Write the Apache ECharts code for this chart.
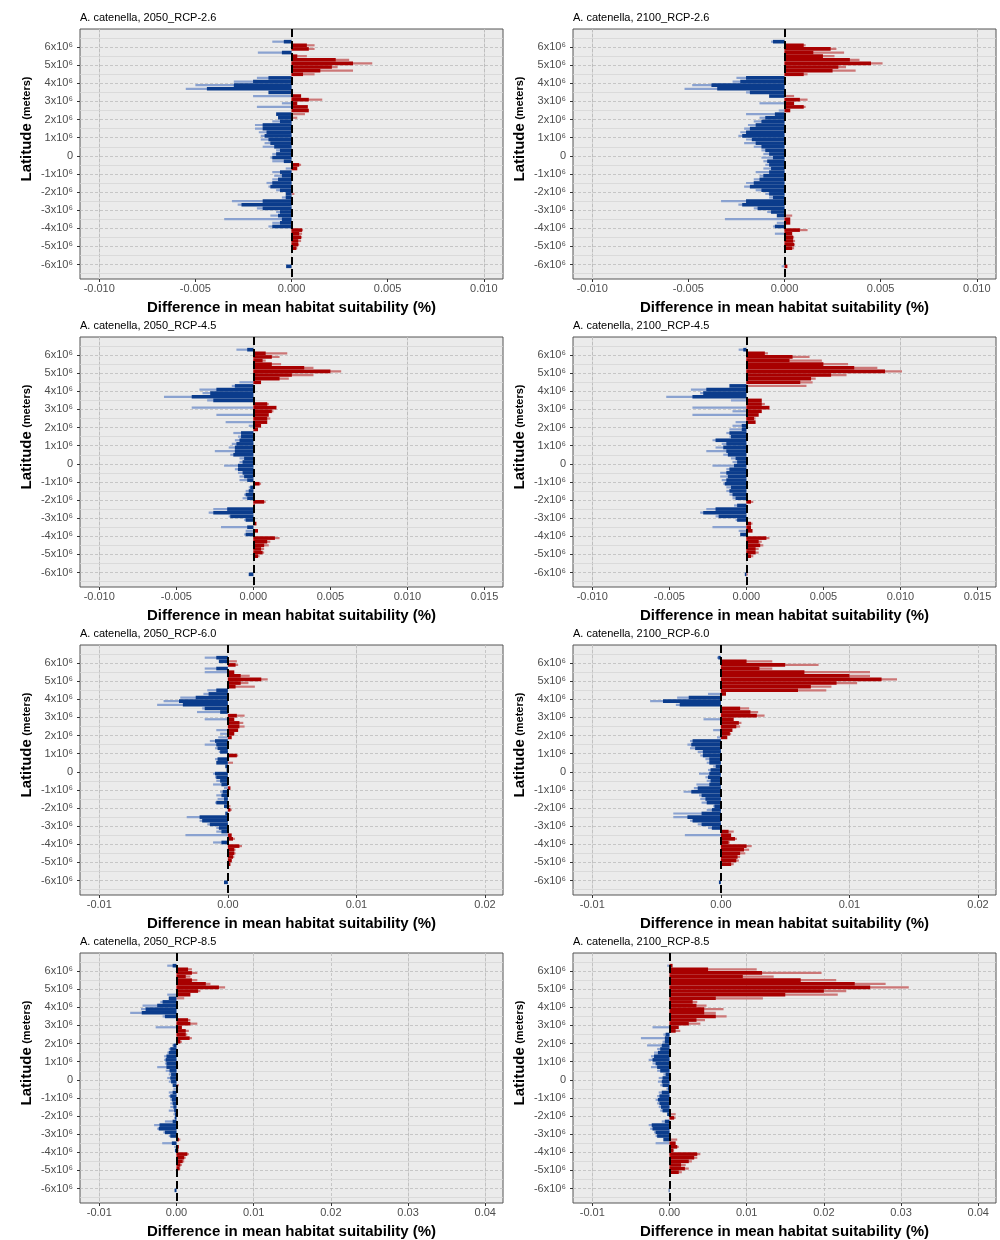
<!DOCTYPE html>
<html>
<head>
<meta charset="utf-8">
<title>A. catenella – difference in mean habitat suitability by latitude</title>
<script src="https://cdn.jsdelivr.net/npm/echarts@6/dist/echarts.min.js"></script>
<style>
  html, body { margin: 0; padding: 0; background: #fff; }
  #chart { width: 1000px; height: 1240px; }
</style>
</head>
<body>
<div id="chart"></div>
<script>
// latitude bins (x10^6 m, 0.2 wide), top to bottom; the data arrays start at 6.3 (index 3) and end at -6.1
var latBins = [6.9, 6.7, 6.5, 6.3, 6.1, 5.9, 5.7, 5.5, 5.3, 5.1, 4.9, 4.7, 4.5, 4.3, 4.1, 3.9, 3.7, 3.5,
  3.3, 3.1, 2.9, 2.7, 2.5, 2.3, 2.1, 1.9, 1.7, 1.5, 1.3, 1.1, 0.9, 0.7, 0.5, 0.3, 0.1, -0.1, -0.3, -0.5,
  -0.7, -0.9, -1.1, -1.3, -1.5, -1.7, -1.9, -2.1, -2.3, -2.5, -2.7, -2.9, -3.1, -3.3, -3.5, -3.7, -3.9,
  -4.1, -4.3, -4.5, -4.7, -4.9, -5.1, -5.3, -5.5, -5.7, -5.9, -6.1, -6.3, -6.5, -6.7];

var latTicks = [6e6, 5e6, 4e6, 3e6, 2e6, 1e6, 0, -1e6, -2e6, -3e6, -4e6, -5e6, -6e6];
var xTicksA = [-0.01, -0.005, 0, 0.005, 0.01];
var xTicksB = [-0.01, -0.005, 0, 0.005, 0.01, 0.015];
var xTicksC = [-0.01, 0, 0.01, 0.02];
var xTicksD = [-0.01, 0, 0.01, 0.02, 0.03, 0.04];
var xMinorA = [-0.0075, -0.0025, 0.0025, 0.0075];
var xMinorB = [-0.0075, -0.0025, 0.0025, 0.0075, 0.0125];
var xMinorC = [-0.005, 0.005, 0.015];
var xMinorD = [-0.005, 0.005, 0.015, 0.025, 0.035];

// values in units of 0.001; core = bulk of the bin, spike = longest thin bar in the bin
var core2050_26 = [-0.4, 0.8, 0.9, -0.5, 0.3, 2.3, 3.2, 2.1, 1.5, 0.6,
  -1.2, -2.0, -3.0, -4.4, -1.2, 0.5, 0.9, 0.3, 0.85, 0.9,
  -0.8, -0.7, -0.6, -1.5, -1.5, -1.3, -1.4, -1.2, -1.1, -0.9,
  -0.6, -0.8, -1.0, -0.4, 0.4, 0.3, -0.6, -0.5, -0.7, -1.0,
  -1.1, -0.6, -0.3, -0.3, -1.5, -2.6, -1.5, -0.6, -0.7, -0.5,
  -0.6, -1.0, 0.55, 0.4, 0.5, 0.35, 0.35, 0.25, 0, 0,
  0, 0, -0.28];
var spike2050_26 = [-1.0, 1.2, 1.2, -1.75, 0.8, 3.0, 4.2, 2.4, 3.2, 1.2,
  -1.8, -3.0, -5.0, -5.5, 0, -2.0, 1.6, -0.5, -1.8, 0,
  0.7, 0.3, -1.0, -1.9, -1.9, -1.7, -1.6, -1.6, -1.4, -1.5,
  -0.8, -1.0, -1.1, -1.0, 0.5, -0.3, -1.0, -0.9, -1.0, -1.3,
  -1.2, -0.8, 0.15, -0.5, -3.1, -2.8, -1.8, -0.8, -1.1, -3.5,
  -1.0, -1.2, 0.6, 0.55, 0.55, 0.5, 0.4, 0.3, 0, 0,
  0, 0, 0];

var core2100_26 = [-0.6, 1.0, 2.4, 1.5, 2.0, 3.4, 4.5, 2.8, 2.5, 1.0,
  -2.0, -2.3, -3.8, -3.5, -1.8, -0.8, 0.8, 0.5, 1.0, 0.3,
  -0.5, -1.0, -1.2, -1.5, -1.8, -2.0, -2.2, -1.7, -1.5, -1.2,
  -1.0, -0.8, -0.6, -0.9, -0.8, -0.7, -0.8, -1.1, -1.3, -1.6,
  -1.8, -1.2, -0.8, -0.6, -2.0, -2.2, -1.4, -0.7, -0.4, 0.3,
  0.3, -0.5, 0.8, 0.4, 0.45, 0.45, 0.5, 0.4, 0, 0,
  0, 0, 0.15];
var spike2100_26 = [-0.7, 1.1, 2.7, 3.1, 2.6, 3.9, 5.1, 3.2, 3.7, 1.2,
  -2.5, -2.7, -4.8, -5.2, -2.0, 0.5, 1.2, -1.3, 1.1, -0.3,
  -2.0, -1.3, -1.6, -1.9, -2.1, -2.3, -2.4, -2.0, -2.1, -1.6,
  -1.2, -1.1, -1.2, -1.1, -1.0, -1.1, -1.5, -1.3, -1.6, -2.0,
  -2.1, -1.5, -1.0, -0.8, -3.3, -2.4, -1.6, -0.9, 0.4, -3.1,
  -0.4, -0.6, 1.2, -0.5, 0.5, 0.55, 0.55, 0.5, 0, 0,
  0, 0, -0.15];

var core2050_45 = [-0.4, 0.8, 1.2, 0.6, 1.2, 3.3, 5.0, 2.5, 1.7, 0.5,
  -1.2, -2.4, -2.8, -4.0, -2.6, 0.9, 1.5, 1.2, 1.0, 0.9,
  0.9, 0.5, 0.3, -0.8, -0.8, -0.9, -1.1, -1.2, -1.2, -1.3,
  -0.6, -0.7, -1.0, -1.0, -0.7, -0.6, -0.4, 0.4, -0.2, -0.3,
  -0.5, -0.4, 0.7, 0.1, -1.7, -2.6, -1.5, -0.5, 0.2, -0.4,
  0.3, -0.5, 1.4, 0.9, 0.7, 0.5, 0.6, 0.3, 0, 0,
  0, 0, -0.3];
var spike2050_45 = [-1.1, 2.2, 1.7, 0.8, 1.8, 3.9, 5.7, 3.9, 2.3, -0.9,
  -1.4, -3.5, -3.3, -5.8, -3.0, 1.0, -4.0, 1.3, -2.4, 1.1,
  -1.8, -0.3, 0, -1.3, -1.0, -1.2, -1.4, -1.6, -2.5, -1.5,
  -0.9, -0.9, -1.9, -1.2, -1.0, -0.9, -0.9, 0.5, -0.3, -0.5,
  -0.6, -0.7, 0.8, 0, -2.6, -2.9, -1.6, -0.6, 0, -2.1,
  -0.5, -0.6, 1.7, 1.1, 1.0, 0.7, 0.7, 0.4, 0, 0,
  0, 0, 0];

var core2100_45 = [-0.2, 1.2, 3.0, 2.8, 5.0, 7.0, 9.0, 5.5, 4.2, 3.5,
  -1.1, -2.6, -2.8, -3.5, 1.0, 1.0, 1.5, 1.0, 0.8, 0.5,
  0.6, -0.3, -0.3, -1.1, -1.0, -2.0, -1.3, -1.5, -1.3, -1.2,
  -0.7, -0.6, -0.8, -1.1, -1.3, -1.2, -1.3, -1.4, -1.0, -1.1,
  -0.9, -0.7, 0.3, -0.6, -2.0, -2.8, -1.8, -0.6, 0.3, 0.3,
  0.4, -0.4, 1.3, 0.8, 0.9, 0.6, 0.6, 0.3, 0, 0,
  0, 0, -0.1];
var spike2100_45 = [-0.5, 1.4, 4.1, 4.9, 6.6, 8.5, 10.1, 6.5, 4.5, 4.3,
  3.9, -3.6, -3.0, -5.2, -1.0, 1.2, -3.5, -0.9, -3.5, 0.6,
  -0.7, -0.9, -1.1, -1.3, -1.1, -2.2, -1.6, -2.0, -2.6, -1.5,
  -1.0, -0.9, -2.2, -1.3, -1.7, -1.7, -1.6, -1.5, -1.3, -1.3,
  -1.1, -0.9, 0.45, -0.8, -2.6, -3.0, -2.0, -0.7, 0.4, -2.2,
  -0.5, 0, 1.5, 1.0, 1.1, 0.8, 0.8, 0.45, 0, 0,
  0, 0, 0.1];

var core2050_60 = [-0.9, -0.7, 0.6, -0.9, 0.5, 1.0, 2.6, 1.0, 0.6, -0.9,
  -1.5, -2.5, -3.8, -3.5, -1.8, -0.6, 0.7, 0.5, 0.9, 0.9,
  0.8, 0.5, 0.3, -1.0, -0.9, -0.8, -0.6, 0.7, -0.8, -0.9,
  -0.2, -0.1, -1.0, -0.9, -0.6, -0.5, 0.2, -0.4, -0.5, -0.3,
  -0.9, -0.3, 0.2, -0.2, -2.2, -2.0, -1.4, -0.7, -0.5, 0.3,
  0.4, -0.5, 0.9, 0.5, 0.5, 0.4, 0.3, 0.2, 0, 0,
  0, 0, -0.3];
var spike2050_60 = [-1.8, 0.7, 0.8, -1.8, -1.8, 1.7, 3.1, 1.6, 2.1, -1.6,
  -1.9, -3.7, -5.0, -5.5, -2.0, -2.4, 1.3, -1.8, 1.2, 1.3,
  -0.9, -0.6, -0.75, -1.4, -1.8, -1.0, -0.7, 0.8, -1.0, 0.4,
  0, 0, -1.15, -1.0, -0.9, -1.15, -0.3, -0.6, -0.9, -0.8,
  -1.0, 0.2, 0.3, 0, -3.2, -2.2, -1.6, -0.9, -0.9, -3.3,
  0.55, -1.15, 1.1, 0.6, 0.6, 0.5, 0.3, 0, 0, 0,
  0, 0, 0];

var core2100_60 = [-0.2, 2.0, 5.0, 3.0, 6.5, 10.0, 12.5, 9.0, 7.0, 6.0,
  0.4, -2.5, -4.5, -3.2, 1.5, 2.3, 2.8, 1.0, 1.4, 1.2,
  0.9, 0.7, 0.5, -2.2, -2.3, -2.0, -1.4, -1.4, -0.9, -0.9,
  -0.4, -0.8, -0.9, -1.0, -0.8, -0.9, -1.8, -2.3, -1.5, -1.2,
  -1.1, -0.5, -0.7, -1.5, -2.6, -2.2, -1.5, -0.7, 0.6, 0.8,
  1.1, 0.6, 2.0, 1.8, 1.5, 1.3, 1.2, 0.8, 0, 0,
  0, 0, -0.15];
var spike2100_60 = [-0.3, 4.0, 7.6, 4.0, 11.6, 11.6, 13.7, 10.6, 8.6, 8.2,
  -1.0, -3.4, -5.5, -3.5, 2.2, 2.9, 3.4, -1.35, 1.6, 1.5,
  -0.6, 0.8, -0.3, -2.4, -2.6, -2.4, -1.8, -1.6, -1.2, -1.1,
  -0.6, -1.0, -1.7, -1.2, -1.1, -1.9, -2.1, -2.9, -1.7, -1.6,
  -1.5, -0.6, -1.1, -3.7, -3.7, -2.4, -1.8, -1.0, 1.0, -2.8,
  1.25, 0.7, 2.4, 2.2, 1.9, 1.5, 1.4, 1.0, 0, 0,
  0, 0, 0];

var core2050_85 = [-0.5, 1.5, 2.0, 1.2, 2.0, 3.8, 5.5, 2.8, 1.8, -1.0,
  -1.8, -2.5, -4.0, -4.5, -1.5, 1.5, 1.8, 0.7, 1.2, 1.2,
  1.7, 0.5, -0.4, -0.8, -1.0, -1.3, -1.4, -1.3, -1.3, -0.9,
  -0.7, -0.8, -0.7, -0.5, 0.2, -0.5, -0.8, -0.6, -0.5, -0.4,
  -0.3, -0.2, -0.2, -0.5, -2.2, -2.3, -1.5, -0.8, 0.3, -0.6,
  0.3, -0.2, 1.4, 1.0, 0.8, 0.5, 0.4, 0.15, 0, 0,
  0, 0, -0.25];
var spike2050_85 = [-1.2, 2.0, 2.7, 1.8, 2.7, 4.4, 6.3, 3.1, -1.2, 1.0,
  -2.1, -4.4, -4.6, -6.0, -1.8, 1.8, 2.7, -2.7, 1.6, 1.4,
  2.0, 0.7, -0.55, -1.0, -1.2, -1.6, -1.6, -1.5, -2.5, -1.4,
  -1.0, -1.2, -1.0, 0.3, -0.4, -1.0, -1.0, -0.8, -0.8, -0.8,
  -1.0, -0.4, -0.3, -1.5, -2.9, -2.5, -1.7, -1.0, 0.5, -1.85,
  -0.3, 0.3, 1.6, 1.2, 1.0, 0.7, 0.5, 0.2, 0, 0,
  0, 0, 0];

var core2100_85 = [0.4, 5.0, 12.0, 9.5, 17.0, 24.0, 26.0, 20.0, 15.0, 6.0,
  3.0, 3.5, 4.5, 4.5, 6.0, 3.5, 2.5, 1.2, 0.8, -0.5,
  -0.6, -0.6, -1.0, -1.2, -1.5, -2.0, -2.2, -1.8, -1.6, -1.2,
  -0.5, -0.9, -1.0, -0.9, -0.2, -1.0, -1.3, -1.5, -1.3, -1.1,
  -0.9, -0.3, 0.6, -0.6, -2.3, -2.2, -1.8, -1.6, -0.8, 0.8,
  1.0, 0.5, 3.6, 3.2, 2.5, 1.5, 2.0, 1.2, 0, 0,
  0, 0, -0.1];
var spike2100_85 = [-0.3, 11.3, 19.7, 13.5, 21.6, 28.0, 31.0, 22.9, 21.8, 12.1,
  3.6, 4.8, 7.0, 6.0, 7.4, 4.6, 4.0, -2.2, 1.4, -0.8,
  -3.7, -0.9, -2.9, -1.6, -2.0, -2.4, -2.7, -2.2, -2.4, -1.6,
  -0.8, -1.4, -1.5, -1.2, -0.4, -1.4, -1.6, -1.8, -1.6, -1.4,
  -1.2, 0.8, 0.8, -1.0, -2.7, -2.5, -2.0, -1.8, 1.0, -1.8,
  1.2, 0.6, 4.0, 3.6, 2.9, 2.1, 2.5, 1.6, 0, 0,
  0, 0, 0];

var panels = [
  { name: 'A. catenella, 2050_RCP-2.6', core: core2050_26, spike: spike2050_26, row: 0, col: 0 },
  { name: 'A. catenella, 2100_RCP-2.6', core: core2100_26, spike: spike2100_26, row: 0, col: 1 },
  { name: 'A. catenella, 2050_RCP-4.5', core: core2050_45, spike: spike2050_45, row: 1, col: 0 },
  { name: 'A. catenella, 2100_RCP-4.5', core: core2100_45, spike: spike2100_45, row: 1, col: 1 },
  { name: 'A. catenella, 2050_RCP-6.0', core: core2050_60, spike: spike2050_60, row: 2, col: 0 },
  { name: 'A. catenella, 2100_RCP-6.0', core: core2100_60, spike: spike2100_60, row: 2, col: 1 },
  { name: 'A. catenella, 2050_RCP-8.5', core: core2050_85, spike: spike2050_85, row: 3, col: 0 },
  { name: 'A. catenella, 2100_RCP-8.5', core: core2100_85, spike: spike2100_85, row: 3, col: 1 }
];

var rowAxes = [
  { min: -0.011, max: 0.011, step: 0.005, split: 5, ticks: xTicksA, minor: xMinorA, digits: 3 },
  { min: -0.01125, max: 0.0162, step: 0.005, split: 5, ticks: xTicksB, minor: xMinorB, digits: 3 },
  { min: -0.0115, max: 0.0214, step: 0.01, split: 3, ticks: xTicksC, minor: xMinorC, digits: 2 },
  { min: -0.0125, max: 0.0423, step: 0.01, split: 5, ticks: xTicksD, minor: xMinorD, digits: 2 }
];

var colLeft = [80, 573];
var rowTop = [29, 337, 645, 953];
var FONT = '"Liberation Sans", Arial, sans-serif';
var RED = '#A80000', BLUE = '#0B3C8C', RED_LIGHT = '#CC7777', BLUE_LIGHT = '#8AA2D0';

function padBins (vals) {
  return [null, null, null].concat(vals.map(function (v) { return v / 1000; }), [null, null, null]);
}

function signColor (neg, pos) {
  return function (d) { return d.value < 0 ? neg : pos; };
}

var grids = [], titles = [], xAxes = [], yAxes = [], series = [];

panels.forEach(function (p, i) {
  var left = colLeft[p.col];
  var top = rowTop[p.row];
  var ax = rowAxes[p.row];

  grids.push({
    left: left, top: top, width: 423, height: 250, z: 0,
    show: true, backgroundColor: '#EBEBEB', borderColor: '#555', borderWidth: 1
  });

  titles.push({
    text: p.name, left: left, top: top - 17, padding: 0,
    textStyle: { fontFamily: FONT, fontSize: 11, fontWeight: 'normal', color: '#000' }
  });

  xAxes.push({
    type: 'value', gridIndex: i, min: ax.min, max: ax.max, z: 3,
    splitNumber: ax.split, minInterval: ax.step, maxInterval: ax.step,
    axisLine: { show: false, onZero: false },
    axisTick: { show: true, length: 3, customValues: ax.ticks, lineStyle: { color: '#333' } },
    axisLabel: {
      customValues: ax.ticks, margin: 4, color: '#4D4D4D', fontSize: 11, fontFamily: FONT,
      formatter: function (v) { return v.toFixed(ax.digits); }
    },
    splitLine: { show: false },
    name: 'Difference in mean habitat suitability (%)',
    nameLocation: 'middle', nameGap: 21,
    nameTextStyle: { fontFamily: FONT, fontSize: 15, fontWeight: 'bold', color: '#000' }
  });

  // value axis for ticks, labels and horizontal grid lines
  yAxes.push({
    type: 'value', gridIndex: i, min: -6.8e6, max: 7.0e6, z: 3,
    splitNumber: 14, minInterval: 1e6, maxInterval: 1e6,
    axisLine: { show: false, onZero: false },
    axisTick: { show: true, length: 3, customValues: latTicks, lineStyle: { color: '#333' } },
    axisLabel: {
      customValues: latTicks, margin: 7, color: '#4D4D4D', fontSize: 11, fontFamily: FONT,
      formatter: function (v) { return v === 0 ? '0' : (v / 1e6) + 'x10\u2076'; }
    },
    splitLine: { show: true, lineStyle: { color: '#BDBDBD', width: 0.8, type: [3, 2] } },
    minorTick: { show: false, splitNumber: 2 },
    minorSplitLine: { show: true, lineStyle: { color: '#D6D6D6', width: 0.8 } },
    name: '{a|Latitude} {b|(meters)}',
    nameLocation: 'middle', nameRotate: 90, nameGap: 46,
    nameTextStyle: {
      fontFamily: FONT, color: '#000', padding: [0, 0, 0, 50],
      rich: {
        a: { fontFamily: FONT, fontSize: 15, fontWeight: 'bold', color: '#000' },
        b: { fontFamily: FONT, fontSize: 11, fontWeight: 'bold', color: '#000' }
      }
    }
  });
  // hidden band axes holding the latitude bins (core bars, thin spike bars)
  yAxes.push({ type: 'category', gridIndex: i, data: latBins, inverse: true, show: false });
  yAxes.push({ type: 'category', gridIndex: i, data: latBins, inverse: true, show: false });

  // vertical grid lines, drawn under the bars
  series.push({
    type: 'line', xAxisIndex: i, yAxisIndex: 3 * i + 1, data: [], z: 1, silent: true,
    markLine: {
      silent: true, symbol: 'none', z: 1, animation: false, label: { show: false },
      data: ax.minor.map(function (v) {
        return { xAxis: v, lineStyle: { color: '#D6D6D6', width: 1, type: 'solid' } };
      }).concat(ax.ticks.filter(function (v) { return v !== 0; }).map(function (v) {
        return { xAxis: v, lineStyle: { color: '#BDBDBD', width: 0.8, type: [3, 2] } };
      }))
    }
  });

  series.push({
    type: 'bar', xAxisIndex: i, yAxisIndex: 3 * i + 2, z: 4,
    data: padBins(p.spike), barWidth: 2.2,
    itemStyle: { color: signColor(BLUE_LIGHT, RED_LIGHT) }, silent: true
  });
  series.push({
    type: 'bar', xAxisIndex: i, yAxisIndex: 3 * i + 1, z: 5,
    data: padBins(p.core), barCategoryGap: '0%',
    itemStyle: { color: signColor(BLUE, RED) }, silent: true,
    markLine: {
      silent: true, symbol: 'none', z: 10, animation: false, label: { show: false },
      lineStyle: { color: '#000', width: 2, type: [8, 4] },
      data: [{ xAxis: 0 }]
    }
  });
});

var chart = echarts.init(document.getElementById('chart'), null, { renderer: 'canvas' });
chart.setOption({
  animation: false,
  backgroundColor: '#fff',
  title: titles,
  grid: grids,
  xAxis: xAxes,
  yAxis: yAxes,
  series: series
});
</script>
</body>
</html>
